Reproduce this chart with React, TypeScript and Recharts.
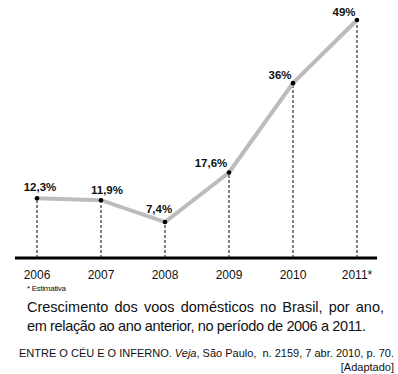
import React from "react";
import { LineChart, Line, XAxis, YAxis, ReferenceLine } from "recharts";

const years = ["2006", "2007", "2008", "2009", "2010", "2011*"];
const growth = [12.3, 11.9, 7.4, 17.6, 36, 49];
const growthLabels = ["12,3%", "11,9%", "7,4%", "17,6%", "36%", "49%"];

const data = years.map((year, i) => ({ year, growth: growth[i], label: growthLabels[i] }));

const FONT = '"Liberation Sans", Arial, sans-serif';

// label nudges so the text sits up and to the left like the original
const labelDx = [3, 6, -6, -18, -13, -13];
const labelDy = [-7, -6, -9, -6, -4, -4];

function PointDot(props: any) {
  const { cx, cy } = props;
  if (cx == null || cy == null) return null;
  return <circle cx={cx} cy={cy} r={2.3} fill="#000" />;
}

function PointLabel(props: any) {
  const { x, y, index } = props;
  return (
    <text
      x={x + labelDx[index]}
      y={y + labelDy[index]}
      textAnchor="middle"
      fontSize={11.5}
      fontWeight="bold"
      fontFamily={FONT}
      fill="#111"
    >
      {growthLabels[index]}
    </text>
  );
}

export default function App() {
  return (
    <div style={{ position: "absolute", left: 0, top: 0, width: 398, height: 374, background: "#fff", fontFamily: FONT, color: "#111" }}>
      <LineChart width={398} height={288} data={data} margin={{ top: 20, right: 21, left: 15, bottom: 0 }}>
        <XAxis
          dataKey="year"
          axisLine={{ stroke: "#000", strokeWidth: 3 }}
          tickLine={false}
          tickMargin={6}
          height={30}
          padding={{ left: 22, right: 20 }}
          tick={{ fontSize: 12, fill: "#111", fontFamily: FONT }}
          interval={0}
        />
        <YAxis hide domain={[0, 49]} />
        {data.map((d) => (
          <ReferenceLine
            key={d.year}
            segment={[{ x: d.year, y: 0 }, { x: d.year, y: d.growth }]}
            stroke="#000"
            strokeWidth={1}
            strokeDasharray="3 2"
          />
        ))}
        <Line
          type="linear"
          dataKey="growth"
          stroke="#bcbcbc"
          strokeWidth={4}
          dot={<PointDot />}
          activeDot={false}
          label={<PointLabel />}
          isAnimationActive={false}
        />
      </LineChart>
      <div style={{ position: "absolute", left: 27, top: 284, fontSize: 8, letterSpacing: -0.3 }}>* Estimativa</div>
      <div style={{ position: "absolute", left: 27, top: 298, width: 357, fontSize: 14.5, lineHeight: "18px", whiteSpace: "nowrap", textAlign: "justify", textAlignLast: "justify" as any }}>
        Crescimento dos voos domésticos no Brasil, por ano,
      </div>
      <div style={{ position: "absolute", left: 27, top: 317, fontSize: 14.5, lineHeight: "18px", whiteSpace: "nowrap", letterSpacing: -0.35 }}>
        em relação ao ano anterior, no período de 2006 a 2011.
      </div>
      <div style={{ position: "absolute", right: 4, top: 346, fontSize: 11, lineHeight: "14px", whiteSpace: "nowrap", textAlign: "right" }}>
        ENTRE O CÉU E O INFERNO. <i>Veja</i>, São Paulo,&nbsp; n. 2159, 7 abr. 2010, p. 70.
        <br />
        [Adaptado]
      </div>
    </div>
  );
}
